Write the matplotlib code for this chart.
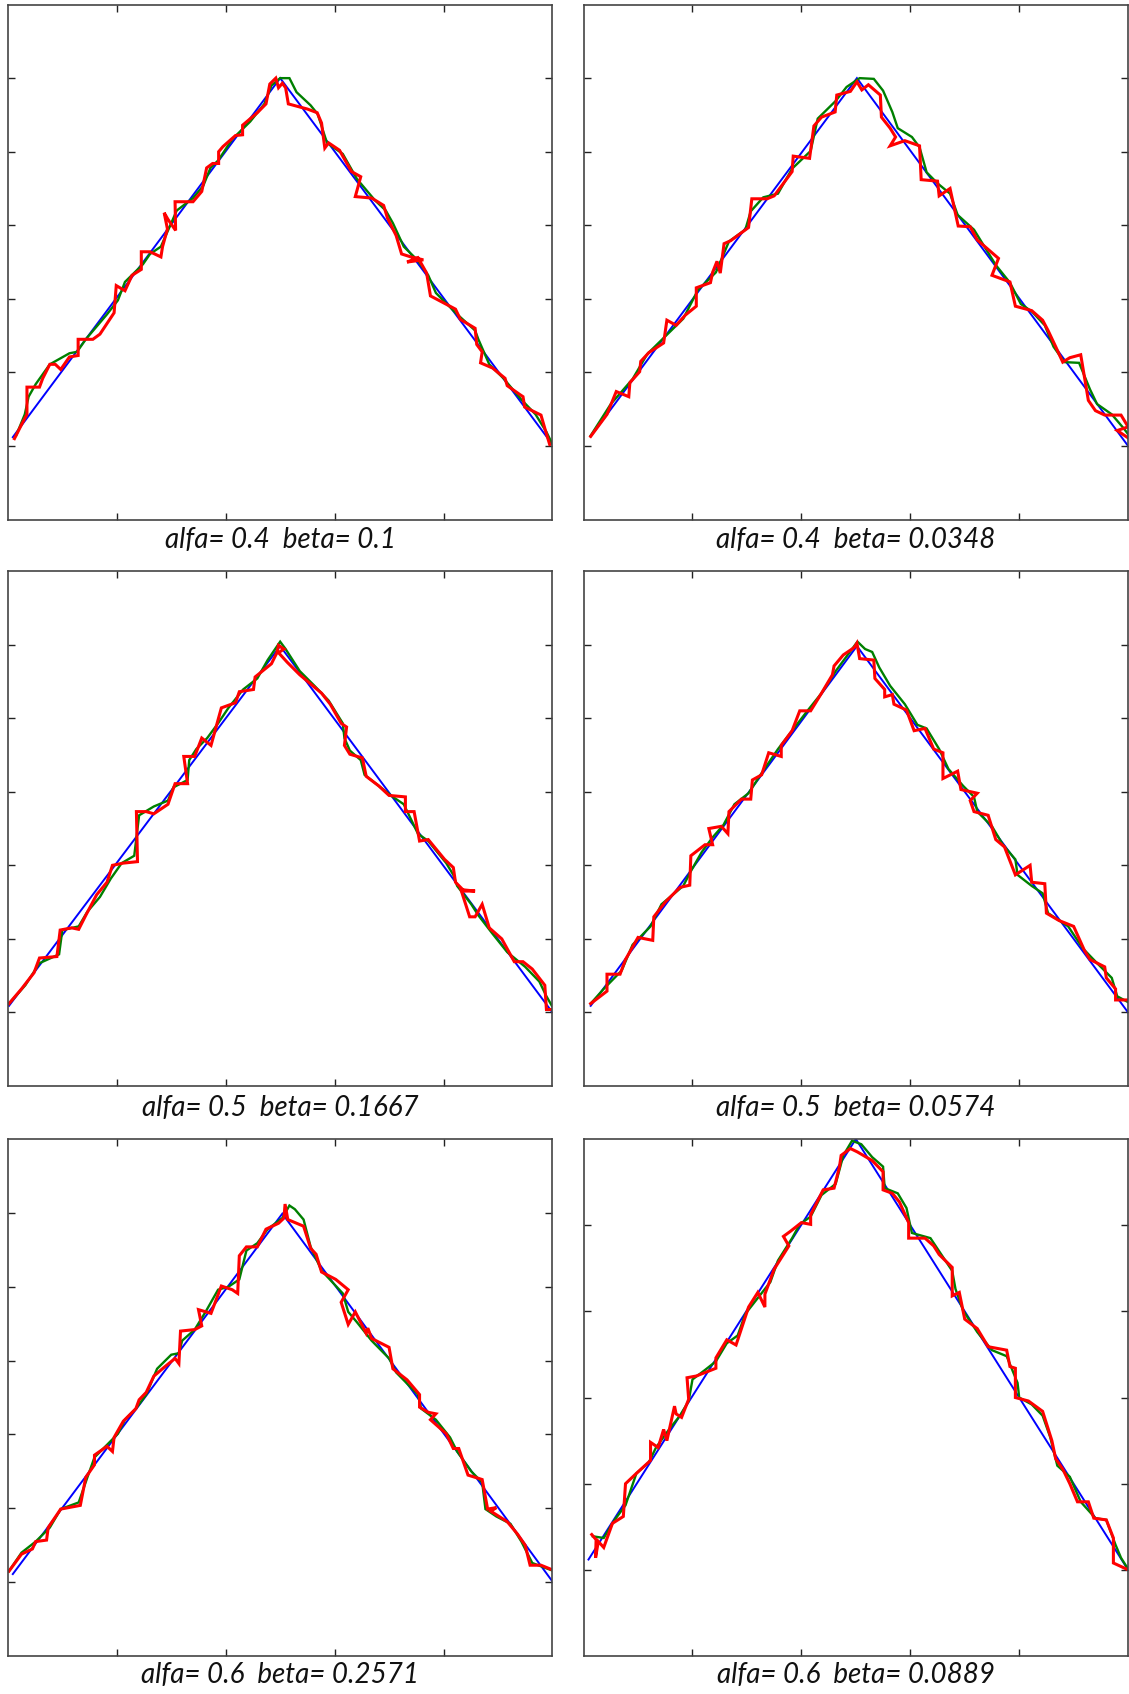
import matplotlib
matplotlib.use("Agg")
import matplotlib.pyplot as plt

# values (x in 0..100, y in axis units)
captions = ["alfa= 0.4  beta= 0.1", "alfa= 0.4  beta= 0.0348",
            "alfa= 0.5  beta= 0.1667", "alfa= 0.5  beta= 0.0574",
            "alfa= 0.6  beta= 0.2571", "alfa= 0.6  beta= 0.0889"]
y_tops = [7, 7, 7, 7, 7, 6]

blue_1 = [(0.9, 1.12), (50.0, 6.00), (100, 1.02)]
blue_2 = [(1.3, 1.13), (50.2, 6.00), (100, 1.00)]
blue_3 = [(0.2, 1.09), (50.0, 5.98), (100, 1.00)]
blue_4 = [(1.3, 1.09), (50.2, 5.98), (100, 1.00)]
blue_5 = [(0.9, 1.11), (50.4, 5.99), (100, 1.01)]
blue_6 = [(0.9, 1.12), (50.0, 6.00), (100, 1.00)]

green_1 = [(1.5, 1.14), (3.1, 1.43), (3.8, 1.67), (5.1, 1.84), (7.7, 2.11), (11.3, 2.26),
           (12.7, 2.28), (14.3, 2.45), (18.2, 2.79), (20.2, 2.98), (21.5, 3.23), (24.8, 3.47),
           (26.1, 3.61), (28.1, 3.71), (30.0, 4.03), (31.0, 4.20), (34.0, 4.37), (35.9, 4.54),
           (37.2, 4.78), (38.6, 4.88), (41.2, 5.17), (44.5, 5.41), (47.1, 5.65), (48.4, 5.90),
           (50.0, 6.00), (51.7, 6.00), (53.0, 5.81), (55.6, 5.63), (56.9, 5.51), (58.6, 5.12),
           (61.5, 4.97), (64.1, 4.63), (67.4, 4.34), (69.4, 4.20), (70.7, 4.03), (72.7, 3.71),
           (75.3, 3.52), (77.2, 3.32), (78.6, 3.08), (82.5, 2.79), (85.8, 2.57), (86.4, 2.45),
           (88.4, 2.11), (91.0, 1.92), (94.3, 1.63), (96.9, 1.43), (98.9, 1.19), (99.9, 1.04)]
red_1 = [(1.2, 1.10), (2.5, 1.29), (3.5, 1.43), (3.5, 1.80), (5.8, 1.80), (6.4, 1.92),
         (7.7, 2.11), (8.7, 2.11), (9.7, 2.04), (11.3, 2.21), (12.9, 2.23), (12.9, 2.45),
         (15.6, 2.45), (16.9, 2.52), (19.5, 2.81), (19.9, 3.18), (21.5, 3.11), (22.8, 3.32),
         (24.5, 3.40), (24.5, 3.64), (26.1, 3.64), (28.1, 3.57), (28.4, 3.71), (29.3, 3.95),
         (28.7, 4.17), (29.4, 4.08), (30.8, 3.93), (30.7, 4.32), (34.0, 4.32), (35.6, 4.46),
         (36.5, 4.78), (37.6, 4.84), (38.7, 4.84), (38.7, 5.00), (39.5, 5.07), (41.8, 5.22),
         (43.1, 5.23), (43.1, 5.36), (45.8, 5.53), (47.4, 5.65), (48.1, 5.92), (49.2, 6.00),
         (49.7, 5.87), (50.4, 5.93), (51.0, 5.87), (51.5, 5.65), (55.0, 5.58), (56.8, 5.53),
         (57.6, 5.39), (58.2, 5.05), (58.9, 5.12), (60.9, 5.02), (61.8, 4.90), (63.1, 4.73),
         (64.8, 4.66), (63.8, 4.39), (66.8, 4.37), (69.0, 4.27), (69.7, 4.10), (71.3, 3.86),
         (72.3, 3.61), (74.0, 3.57), (76.3, 3.53), (73.3, 3.50), (75.3, 3.56), (76.9, 3.35),
         (77.6, 3.04), (79.9, 2.95), (82.2, 2.86), (83.1, 2.72), (85.8, 2.60), (86.1, 2.38),
         (87.1, 2.28), (86.8, 2.13), (89.0, 2.06), (91.3, 1.92), (91.7, 1.82), (94.0, 1.70),
         (94.6, 1.67), (94.9, 1.53), (97.9, 1.42), (98.6, 1.24), (99.5, 1.02)]

green_2 = [(1.3, 1.14), (5.0, 1.57), (9.0, 1.91), (11.7, 2.25), (15.0, 2.49), (18.3, 2.73),
           (21.0, 3.12), (24.3, 3.36), (26.7, 3.78), (29.7, 3.94), (30.7, 4.19), (33.0, 4.38),
           (35.7, 4.43), (38.3, 4.77), (41.7, 5.01), (43.0, 5.45), (46.3, 5.69), (48.3, 5.88),
           (50.7, 6.00), (53.3, 5.99), (55.0, 5.83), (56.7, 5.54), (57.7, 5.32), (60.3, 5.20),
           (61.7, 5.06), (63.0, 4.72), (65.0, 4.57), (67.3, 4.43), (68.7, 4.14), (71.7, 3.94),
           (75.7, 3.46), (78.3, 3.22), (80.3, 2.93), (82.3, 2.83), (84.7, 2.64), (86.3, 2.35),
           (88.3, 2.14), (91.0, 2.13), (93.0, 1.77), (94.3, 1.57), (97.0, 1.43), (99.3, 1.23),
           (100, 1.16)]
red_2 = [(1.3, 1.13), (4.3, 1.43), (6.0, 1.74), (8.3, 1.67), (8.5, 1.86), (10.3, 2.01),
         (10.5, 2.15), (12.0, 2.27), (14.7, 2.40), (15.3, 2.71), (17.0, 2.64), (18.7, 2.78),
         (20.7, 2.90), (20.7, 3.15), (23.3, 3.22), (23.7, 3.36), (24.5, 3.51), (25.1, 3.35),
         (25.8, 3.75), (27.0, 3.79), (30.3, 3.97), (30.9, 4.36), (33.7, 4.36), (35.0, 4.40),
         (36.3, 4.53), (38.3, 4.73), (38.5, 4.94), (41.5, 4.91), (42.3, 5.35), (43.7, 5.47),
         (46.2, 5.54), (46.5, 5.77), (49.0, 5.82), (50.2, 5.95), (51.1, 5.84), (52.3, 5.91),
         (54.5, 5.77), (54.7, 5.47), (56.3, 5.32), (57.3, 5.20), (56.3, 5.08), (59.0, 5.15),
         (61.7, 5.08), (62.0, 4.62), (65.0, 4.60), (65.3, 4.40), (67.3, 4.50), (68.8, 3.99),
         (71.0, 3.98), (72.3, 3.80), (76.2, 3.55), (75.0, 3.32), (78.3, 3.23), (79.3, 2.90),
         (82.3, 2.84), (84.3, 2.71), (85.3, 2.57), (86.7, 2.35), (88.0, 2.14), (89.3, 2.20),
         (91.3, 2.24), (92.7, 1.62), (94.0, 1.48), (95.7, 1.42), (98.7, 1.42), (100, 1.26),
         (98.0, 1.21), (100, 1.11)]

green_3 = [(0.2, 1.12), (3.2, 1.37), (5.8, 1.67), (9.4, 1.79), (10.0, 2.12), (13.0, 2.17),
           (14.6, 2.37), (16.9, 2.57), (18.9, 2.82), (20.9, 3.03), (23.2, 3.13), (24.1, 3.68),
           (26.8, 3.80), (29.4, 3.88), (30.4, 4.06), (33.0, 4.16), (33.3, 4.43), (34.6, 4.58),
           (36.6, 4.73), (38.6, 4.93), (40.5, 5.14), (43.2, 5.39), (45.8, 5.54), (47.7, 5.79),
           (50.0, 6.04), (51.0, 5.94), (53.6, 5.64), (56.3, 5.44), (58.9, 5.24), (61.5, 4.93),
           (61.8, 4.73), (62.8, 4.56), (64.8, 4.43), (65.5, 4.23), (68.1, 4.08), (70.7, 3.93),
           (72.7, 3.83), (75.3, 3.43), (77.2, 3.33), (80.5, 3.03), (81.8, 2.87), (82.5, 2.72),
           (85.1, 2.47), (86.4, 2.32), (89.0, 2.07), (91.7, 1.82), (95.0, 1.62), (97.6, 1.42),
           (98.9, 1.22), (99.9, 1.09)]
red_3 = [(0.2, 1.12), (2.5, 1.32), (4.8, 1.54), (5.8, 1.74), (9.0, 1.76), (9.6, 2.12),
         (11.7, 2.15), (13.0, 2.13), (14.3, 2.32), (16.3, 2.60), (18.2, 2.77), (19.2, 3.00),
         (21.2, 3.03), (23.8, 3.05), (23.6, 3.73), (25.4, 3.73), (26.8, 3.70), (29.4, 3.83),
         (30.7, 4.11), (33.0, 4.11), (32.3, 4.48), (34.3, 4.48), (35.6, 4.73), (37.3, 4.63),
         (39.2, 5.14), (41.8, 5.21), (42.5, 5.36), (45.1, 5.39), (45.4, 5.56), (48.4, 5.74),
         (49.4, 5.89), (49.7, 5.99), (50.7, 5.94), (49.7, 5.89), (51.3, 5.76), (53.6, 5.59),
         (57.6, 5.34), (59.2, 5.19), (61.2, 4.93), (62.2, 4.88), (61.8, 4.63), (62.8, 4.51),
         (65.1, 4.46), (65.8, 4.21), (68.1, 4.08), (70.0, 3.95), (73.0, 3.93), (73.0, 3.73),
         (74.6, 3.73), (75.6, 3.33), (77.2, 3.35), (80.2, 3.08), (81.8, 2.97), (82.2, 2.77),
         (83.8, 2.65), (85.8, 2.65), (83.2, 2.67), (84.8, 2.30), (85.8, 2.30), (87.1, 2.47),
         (88.4, 2.15), (90.7, 2.00), (93.0, 1.69), (94.6, 1.69), (96.3, 1.59), (98.6, 1.37),
         (98.9, 1.04), (99.9, 1.04)]

green_4 = [(1.3, 1.12), (3.7, 1.32), (7.0, 1.57), (9.0, 1.92), (12.3, 2.17), (14.3, 2.47),
           (18.3, 2.72), (19.7, 2.92), (21.7, 3.18), (23.7, 3.38), (25.7, 3.55), (27.7, 3.83),
           (30.3, 3.98), (32.3, 4.21), (35.7, 4.58), (38.3, 4.83), (41.0, 5.09), (43.7, 5.34),
           (46.3, 5.64), (48.3, 5.84), (50.3, 6.04), (51.7, 5.94), (53.0, 5.90), (54.3, 5.69),
           (56.3, 5.44), (59.0, 5.19), (61.3, 4.91), (63.0, 4.86), (65.3, 4.58), (67.0, 4.31),
           (69.7, 4.08), (71.7, 3.93), (72.3, 3.73), (75.0, 3.53), (77.0, 3.28), (79.3, 3.08),
           (79.7, 2.87), (82.3, 2.72), (84.3, 2.62), (85.3, 2.35), (89.0, 2.17), (91.7, 1.87),
           (94.3, 1.67), (97.0, 1.47), (98.0, 1.22), (100, 1.14)]
red_4 = [(1.3, 1.12), (4.3, 1.29), (4.3, 1.52), (6.7, 1.52), (7.7, 1.72), (10.0, 2.02),
         (12.7, 1.98), (12.9, 2.30), (15.0, 2.50), (17.7, 2.70), (19.5, 2.73), (19.7, 3.13),
         (22.3, 3.28), (23.7, 3.28), (23.0, 3.50), (25.3, 3.53), (26.5, 3.43), (26.7, 3.73),
         (29.0, 3.90), (30.7, 3.90), (31.0, 4.16), (32.7, 4.23), (34.0, 4.53), (36.3, 4.48),
         (36.3, 4.63), (38.3, 4.83), (39.7, 5.10), (41.7, 5.10), (43.7, 5.34), (45.7, 5.59),
         (46.0, 5.71), (47.7, 5.86), (49.7, 5.96), (50.2, 6.02), (50.7, 5.81), (53.3, 5.79),
         (53.5, 5.54), (55.3, 5.39), (55.3, 5.29), (56.7, 5.32), (57.0, 5.19), (59.3, 5.11),
         (60.7, 4.83), (62.7, 4.86), (64.3, 4.58), (66.0, 4.53), (66.0, 4.18), (68.7, 4.28),
         (69.3, 4.03), (72.3, 3.98), (71.0, 3.88), (71.7, 3.73), (74.3, 3.68), (75.7, 3.35),
         (77.3, 3.25), (79.3, 2.87), (82.0, 3.00), (82.3, 2.77), (84.7, 2.75), (85.0, 2.35),
         (87.3, 2.25), (90.0, 2.17), (92.0, 1.84), (93.0, 1.72), (95.7, 1.62), (96.0, 1.47),
         (97.7, 1.32), (97.7, 1.17), (100, 1.17)]

green_5 = [(0.2, 1.15), (2.5, 1.40), (5.1, 1.55), (7.7, 1.74), (9.7, 1.99), (13.0, 2.08),
           (14.6, 2.42), (15.9, 2.69), (18.2, 2.86), (20.2, 3.01), (21.5, 3.20), (23.5, 3.35),
           (25.4, 3.54), (27.4, 3.89), (30.0, 4.08), (31.4, 4.10), (32.0, 4.27), (34.3, 4.42),
           (36.3, 4.66), (38.6, 4.96), (40.5, 5.00), (42.5, 5.10), (43.8, 5.49), (45.8, 5.59),
           (47.7, 5.78), (50.4, 5.93), (51.7, 6.10), (52.7, 6.05), (54.3, 5.91), (55.6, 5.54),
           (57.6, 5.22), (61.5, 4.91), (62.5, 4.66), (64.1, 4.52), (66.8, 4.27), (70.0, 4.03),
           (71.3, 3.84), (75.3, 3.54), (75.9, 3.35), (78.6, 3.20), (81.2, 2.96), (82.5, 2.77),
           (85.1, 2.50), (87.1, 2.35), (87.7, 1.99), (89.7, 1.89), (92.3, 1.79), (94.3, 1.55),
           (96.3, 1.26), (99.9, 1.16)]
red_5 = [(0.2, 1.15), (2.5, 1.38), (4.5, 1.45), (5.1, 1.55), (7.1, 1.57), (7.4, 1.74),
         (9.7, 1.99), (13.3, 2.04), (14.3, 2.42), (15.9, 2.59), (15.9, 2.72), (18.2, 2.84),
         (19.2, 2.77), (19.5, 2.96), (21.2, 3.18), (23.5, 3.35), (24.1, 3.47), (25.4, 3.57),
         (26.8, 3.79), (28.7, 3.91), (30.7, 4.03), (31.4, 3.96), (31.7, 4.40), (34.3, 4.42),
         (35.6, 4.47), (35.0, 4.69), (37.3, 4.64), (39.2, 5.01), (41.2, 4.96), (42.2, 4.91),
         (42.5, 5.42), (43.8, 5.54), (45.8, 5.54), (47.4, 5.78), (49.7, 5.86), (50.7, 5.93),
         (50.9, 6.12), (51.4, 5.91), (54.3, 5.82), (55.6, 5.52), (56.6, 5.44), (57.6, 5.20),
         (60.2, 5.10), (62.5, 4.96), (61.2, 4.79), (62.5, 4.49), (63.8, 4.66), (65.8, 4.37),
         (66.1, 4.44), (66.8, 4.30), (70.0, 4.18), (70.7, 3.89), (73.3, 3.74), (75.6, 3.54),
         (75.6, 3.37), (77.2, 3.30), (78.6, 3.28), (77.6, 3.20), (80.5, 3.01), (81.8, 2.81),
         (82.8, 2.81), (84.5, 2.45), (87.1, 2.39), (88.1, 1.99), (89.7, 2.01), (88.7, 1.96),
         (91.7, 1.82), (93.6, 1.65), (95.0, 1.50), (95.9, 1.23), (97.9, 1.23), (99.9, 1.17)]

green_6 = [(1.7, 1.39), (3.7, 1.37), (5.7, 1.58), (7.7, 1.75), (9.7, 2.12), (12.0, 2.25),
           (13.3, 2.42), (15.7, 2.63), (17.7, 2.79), (19.3, 2.96), (20.0, 3.21), (22.3, 3.32),
           (24.3, 3.42), (26.3, 3.63), (28.3, 3.72), (29.7, 3.97), (32.3, 4.18), (34.3, 4.34),
           (35.7, 4.59), (38.3, 4.85), (39.7, 5.01), (41.7, 5.10), (43.7, 5.35), (46.3, 5.48),
           (47.7, 5.81), (49.3, 5.98), (51.0, 5.94), (53.0, 5.79), (55.0, 5.68), (55.3, 5.43),
           (57.7, 5.37), (59.3, 5.20), (60.3, 4.91), (63.7, 4.85), (65.7, 4.66), (67.7, 4.47),
           (68.3, 4.26), (69.7, 4.01), (72.3, 3.76), (75.0, 3.55), (77.7, 3.48), (79.7, 3.17),
           (80.0, 3.00), (82.3, 2.92), (84.3, 2.79), (85.7, 2.54), (87.0, 2.21), (89.3, 2.08),
           (91.3, 1.79), (94.0, 1.60), (96.0, 1.58), (97.7, 1.29), (98.7, 1.14), (100, 1.01)]
red_6 = [(1.5, 1.41), (2.3, 1.35), (2.2, 1.14), (2.7, 1.33), (3.7, 1.26), (5.3, 1.54),
         (7.3, 1.62), (7.7, 2.00), (9.7, 2.12), (12.3, 2.27), (12.3, 2.48), (13.7, 2.42),
         (14.7, 2.63), (15.3, 2.50), (16.7, 2.90), (17.0, 2.81), (18.0, 2.77), (19.3, 2.98),
         (19.0, 3.23), (20.7, 3.25), (24.3, 3.34), (24.3, 3.46), (26.3, 3.67), (28.0, 3.61),
         (30.3, 4.05), (32.0, 4.22), (33.3, 4.05), (33.3, 4.20), (35.0, 4.49), (37.7, 4.76),
         (36.7, 4.87), (38.0, 4.93), (40.0, 5.03), (41.7, 5.01), (41.7, 5.12), (44.0, 5.41),
         (46.0, 5.43), (47.0, 5.68), (47.3, 5.81), (49.0, 5.89), (50.3, 5.85), (53.0, 5.75),
         (55.0, 5.62), (55.0, 5.41), (56.7, 5.37), (58.0, 5.27), (59.7, 5.03), (59.7, 4.85),
         (62.7, 4.85), (64.3, 4.76), (65.3, 4.66), (67.7, 4.51), (67.7, 4.18), (69.0, 4.22),
         (70.0, 3.91), (72.3, 3.80), (74.3, 3.59), (77.7, 3.55), (78.3, 3.36), (79.3, 3.34),
         (79.3, 3.00), (81.7, 2.96), (84.3, 2.84), (86.0, 2.50), (86.7, 2.29), (88.0, 2.17),
         (89.3, 2.00), (90.7, 1.79), (92.7, 1.79), (93.7, 1.60), (96.0, 1.58), (97.3, 1.37),
         (97.3, 1.08), (99.7, 1.01)]

blues = [blue_1, blue_2, blue_3, blue_4, blue_5, blue_6]
greens = [green_1, green_2, green_3, green_4, green_5, green_6]
reds = [red_1, red_2, red_3, red_4, red_5, red_6]

fig = plt.figure(figsize=(11.29, 16.94), dpi=100)

lefts = [0.0070, 0.5169]
bottoms = [0.6933, 0.3589, 0.0224]
heights = [0.3040, 0.3040, 0.3052]
cap_y = [0.6812, 0.3462, 0.0112]

for i in range(6):
    r, c = divmod(i, 2)
    ax = fig.add_axes([lefts[c], bottoms[r], 0.4823, heights[r]])
    for pts, col, lw in [(blues[i], '#0000ff', 1.4),
                         (greens[i], '#008000', 1.7),
                         (reds[i], '#ff0000', 2.2)]:
        xs, ys = zip(*pts)
        ax.plot(xs, ys, color=col, lw=lw, solid_joinstyle='miter')
    ax.set_xlim(0, 100)
    ax.set_ylim(0, y_tops[i])
    ax.set_xticks([20, 40, 60, 80])
    ax.set_yticks(range(1, y_tops[i]))
    ax.tick_params(direction='in', top=True, right=True, length=5, width=1,
                   labelbottom=False, labelleft=False, color='#222222')
    for s in ax.spines.values():
        s.set_color('#444444')
        s.set_linewidth(1.2)
    fig.text(lefts[c] + 0.4823 / 2, cap_y[r], captions[i], ha='center', va='center',
             fontsize=20, style='italic', family='Lato', color='#111111')

fig.savefig('out.png', dpi=100)
